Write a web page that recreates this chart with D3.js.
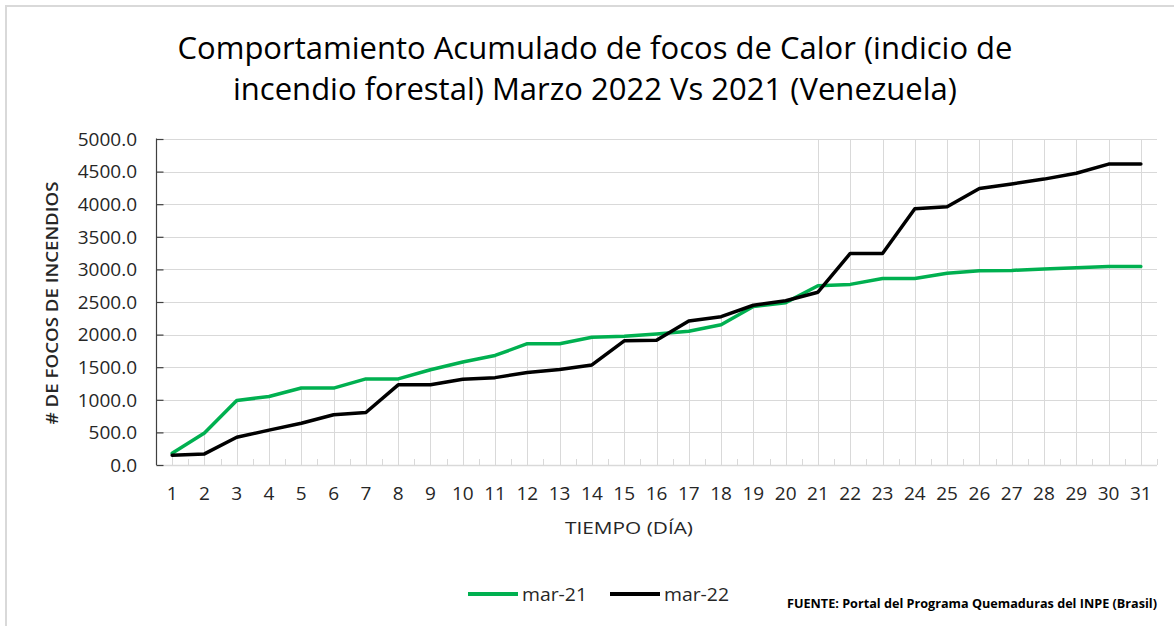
<!DOCTYPE html>
<html>
<head>
<meta charset="utf-8">
<script src="https://cdn.jsdelivr.net/npm/d3@7"></script>
<style>
  html, body { margin: 0; padding: 0; background: #fff; }
  svg { display: block; }
</style>
</head>
<body>
<script>
// ---- data ----
const days = d3.range(1, 32);
const mar21 = [180, 490, 990, 1050, 1180, 1180, 1320, 1320, 1460, 1580, 1680, 1860, 1860, 1960, 1975, 2010, 2050, 2150, 2430, 2490, 2750, 2770, 2860, 2860, 2940, 2980, 2985, 3005, 3025, 3045, 3045];
const mar22 = [150, 170, 425, 535, 640, 770, 805, 1230, 1230, 1315, 1340, 1420, 1465, 1535, 1905, 1915, 2210, 2275, 2450, 2520, 2650, 3245, 3245, 3930, 3960, 4240, 4310, 4385, 4475, 4615, 4615];
const yTicks = [0, 500, 1000, 1500, 2000, 2500, 3000, 3500, 4000, 4500, 5000];
const seriesNames = ["mar-21", "mar-22"];
const titleLines = ["Comportamiento Acumulado de focos de Calor (indicio de", "incendio forestal) Marzo 2022 Vs 2021 (Venezuela)"];
const xTitle = "TIEMPO (DÍA)";
const yTitle = "# DE FOCOS DE INCENDIOS";
const sourceText = "FUENTE:  Portal del Programa Quemaduras del INPE (Brasil)";

// ---- layout ----
const W = 1174, H = 626;
const colors = ["#00b050", "#000000"];
const svg = d3.select("body").append("svg").attr("width", W).attr("height", H);
const font = "'Open Sans', sans-serif";

// border
svg.append("path").attr("d", `M6,${H} L6,6 L${W},6`).attr("fill", "none")
  .attr("stroke", "#d9d9d9").attr("stroke-width", 2);

const x = d3.scalePoint().domain(days).range([156, 1157]).padding(0.5);
const y = d3.scaleLinear().domain([0, 5000]).range([465, 139]);
const step = x.step();

// horizontal gridlines
svg.append("g").selectAll("line").data(yTicks.filter(d => d > 0)).join("line")
  .attr("x1", 156).attr("x2", 1157)
  .attr("y1", d => Math.round(y(d)) + 0.5).attr("y2", d => Math.round(y(d)) + 0.5)
  .attr("stroke", "#d9d9d9").attr("stroke-width", 1);

// vertical drop/grid lines at categories
svg.append("g").selectAll("line").data(days).join("line")
  .attr("x1", d => Math.round(x(d)) + 0.5).attr("x2", d => Math.round(x(d)) + 0.5)
  .attr("y1", (d, i) => d >= 21 ? y(5000) : y(Math.max(mar21[i], mar22[i])))
  .attr("y2", y(0))
  .attr("stroke", "#d9d9d9").attr("stroke-width", 1);

// x axis (light gray) with boundary ticks pointing up
const xAxisG = svg.append("g");
xAxisG.append("line").attr("x1", 156).attr("x2", 1157).attr("y1", 465.5).attr("y2", 465.5)
  .attr("stroke", "#d9d9d9").attr("stroke-width", 1.5);
xAxisG.selectAll("line.tk").data(d3.range(0, 32)).join("line").attr("class", "tk")
  .attr("x1", i => Math.round(156 + i * step) + 0.5).attr("x2", i => Math.round(156 + i * step) + 0.5)
  .attr("y1", 459).attr("y2", 465)
  .attr("stroke", "#d9d9d9").attr("stroke-width", 1);
xAxisG.selectAll("text").data(days).join("text")
  .attr("x", d => x(d)).attr("y", 500)
  .attr("text-anchor", "middle")
  .attr("font-family", font).attr("font-size", 19).attr("fill", "#262626")
  .text(d => d);

// y axis (dark) with ticks pointing right
const yAxis = d3.axisRight(y).tickValues(yTicks).tickSize(7).tickFormat("");
const yG = svg.append("g").attr("transform", "translate(156.5,0)").call(yAxis);
yG.selectAll("path, line").attr("stroke", "#404040").attr("stroke-width", 1.2);
yG.select("path").attr("d", `M0.5,${y(5000)}H0V${y(0)}`);
svg.append("g").selectAll("text").data(yTicks).join("text")
  .attr("x", 137).attr("y", d => y(d)).attr("dy", "0.36em")
  .attr("text-anchor", "end")
  .attr("font-family", font).attr("font-size", 19).attr("fill", "#262626")
  .text(d => d3.format(".1f")(d));

// lines
const line = d3.line().x((d, i) => x(days[i])).y(d => y(d));
[mar21, mar22].forEach((s, k) => {
  svg.append("path").datum(s).attr("d", line)
    .attr("fill", "none").attr("stroke", colors[k]).attr("stroke-width", 3.5)
    .attr("stroke-linejoin", "round").attr("stroke-linecap", "round");
});

// title
const titleLens = [835, 724];
const titleY = [59, 100];
titleLines.forEach((t, i) => {
  svg.append("text").attr("x", 595).attr("y", titleY[i]).attr("text-anchor", "middle")
    .attr("font-family", font).attr("font-size", 31).attr("fill", "#000")
    .attr("textLength", titleLens[i]).attr("lengthAdjust", "spacingAndGlyphs")
    .text(t);
});

// axis titles
svg.append("text").attr("x", 629).attr("y", 534).attr("text-anchor", "middle")
  .attr("font-family", font).attr("font-size", 17).attr("fill", "#262626")
  .attr("textLength", 128).attr("lengthAdjust", "spacingAndGlyphs")
  .text(xTitle);
svg.append("text").attr("transform", "translate(58,303) rotate(-90)").attr("text-anchor", "middle")
  .attr("font-family", font).attr("font-size", 17).attr("font-weight", 600).attr("fill", "#262626")
  .attr("textLength", 243).attr("lengthAdjust", "spacingAndGlyphs")
  .text(yTitle);

// legend
const legX = [468, 610];
seriesNames.forEach((n, k) => {
  svg.append("line").attr("x1", legX[k]).attr("x2", legX[k] + 50).attr("y1", 594).attr("y2", 594)
    .attr("stroke", colors[k]).attr("stroke-width", 4);
  svg.append("text").attr("x", legX[k] + 54).attr("y", 601)
    .attr("font-family", font).attr("font-size", 19).attr("fill", "#262626")
    .attr("textLength", 65).attr("lengthAdjust", "spacingAndGlyphs")
    .text(n);
});

// source
svg.append("text").attr("x", 787).attr("y", 608)
  .attr("font-family", font).attr("font-size", 12).attr("font-weight", 700).attr("fill", "#000")
  .attr("textLength", 370).attr("lengthAdjust", "spacingAndGlyphs")
  .text(sourceText);
</script>
</body>
</html>
